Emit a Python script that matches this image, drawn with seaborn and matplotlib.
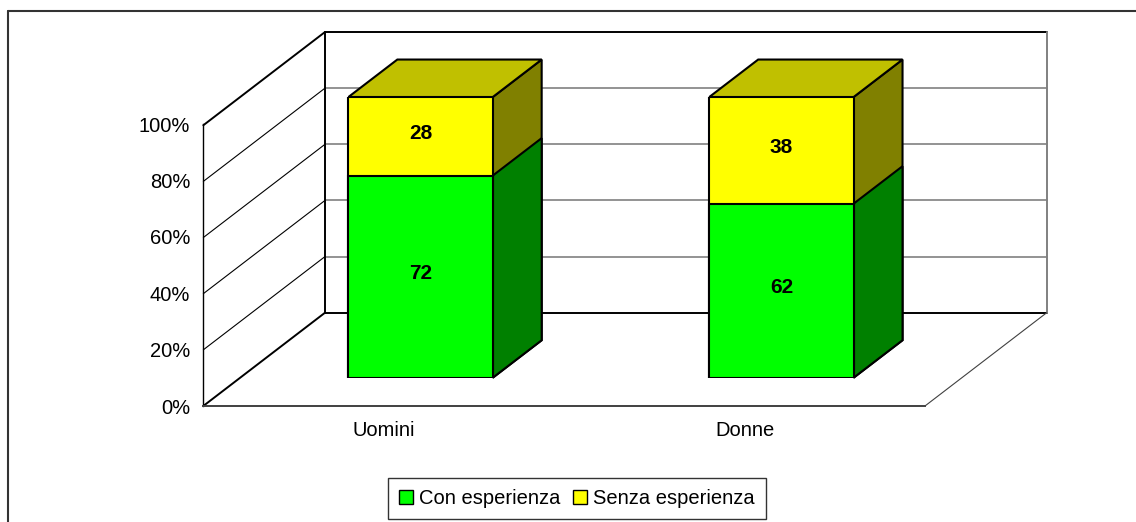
import matplotlib
matplotlib.use("Agg")
import matplotlib.pyplot as plt
import seaborn as sns
import pandas as pd
from matplotlib.lines import Line2D
from matplotlib.patches import Patch, Polygon

# dati
categories = ["Uomini", "Donne"]
con_esperienza = [72, 62]
senza_esperienza = [28, 38]
series_names = ["Con esperienza", "Senza esperienza"]
y_ticks = [0, 20, 40, 60, 80, 100]
y_tick_labels = ["0%", "20%", "40%", "60%", "80%", "100%"]

# colori stile Excel (fronte, lato, sopra)
GREEN = ("#00FF00", "#008000", "#00C000")
YELLOW = ("#FFFF00", "#808000", "#C0C000")

# prospettiva finta 3D, in unita' dati dell'asse delle barre
DEPTH_X, DEPTH_Y = 0.337, 33.2
FRONT_T, BACK_T, BAR_T = -0.303, 0.697, 0.402

W, H = 1136, 522

sns.set_style("white")
plt.rcParams["font.family"] = ["Liberation Sans", "DejaVu Sans"]
plt.rcParams["font.size"] = 14.5
plt.rcParams["text.color"] = "black"
plt.rcParams["xtick.labelcolor"] = "black"
plt.rcParams["ytick.labelcolor"] = "black"


def box(x0, y_top, x1, y_bottom):
    return [x0 / W, 1 - y_bottom / H, (x1 - x0) / W, (y_bottom - y_top) / H]


fig = plt.figure(figsize=(W / 100, H / 100), dpi=100)
ax = fig.add_axes(box(240.2, 97, 961.9, 377.7))
ax_front = fig.add_axes(box(203.3, 124, 925, 406))


def shift(x, y, t):
    return x + t * DEPTH_X, y + t * DEPTH_Y


# pareti e pavimento
lw = 0.8
xl, xr = -0.5, 1.5
for v in y_ticks:
    p0 = shift(xl, v, FRONT_T)
    p1 = shift(xl, v, BACK_T)
    p2 = shift(xr, v, BACK_T)
    ax.plot([p0[0], p1[0]], [p0[1], p1[1]], color="black",
            lw=1.4 if v in (0, 100) else lw, clip_on=False, zorder=0)
    if v not in (0, 100):
        ax.plot([p1[0], p2[0]], [p1[1], p2[1]], color="#808080", lw=1.2, clip_on=False, zorder=0)

bl0, bl1 = shift(xl, 0, BACK_T), shift(xl, 100, BACK_T)
br0, br1 = shift(xr, 0, BACK_T), shift(xr, 100, BACK_T)
ax.plot([bl0[0], bl1[0]], [bl0[1], bl1[1]], color="black", lw=1.4, clip_on=False, zorder=0)
ax.plot([bl1[0], br1[0]], [bl1[1], br1[1]], color="black", lw=1.4, clip_on=False, zorder=0)
ax.plot([bl0[0], br0[0]], [bl0[1], br0[1]], color="black", lw=1.4, clip_on=False, zorder=0)
ax.plot([br0[0], br1[0]], [br0[1], br1[1]], color="#808080", lw=1.4, clip_on=False, zorder=0)
fr0 = shift(xr, 0, FRONT_T)
ax.plot([fr0[0], br0[0]], [fr0[1], br0[1]], color="#404040", lw=lw, clip_on=False, zorder=0)

# barre impilate
df = pd.DataFrame({"categoria": categories,
                   series_names[0]: con_esperienza,
                   series_names[1]: senza_esperienza})
df["totale"] = df[series_names[0]] + df[series_names[1]]

sns.barplot(data=df, x="categoria", y="totale", color=YELLOW[0], saturation=1,
            width=0.4, edgecolor="black", linewidth=1.5, ax=ax, zorder=3)
sns.barplot(data=df, x="categoria", y=series_names[0], color=GREEN[0], saturation=1,
            width=0.4, edgecolor="black", linewidth=1.5, ax=ax, zorder=3)

bx, by = BAR_T * DEPTH_X, BAR_T * DEPTH_Y
n = len(categories)
bars_total = ax.patches[:n]
bars_con = ax.patches[n:2 * n]
for patches, colors, top in ((bars_total, YELLOW, True), (bars_con, GREEN, False)):
    for p in patches:
        x0, w = p.get_x(), p.get_width()
        y0, h = p.get_y(), p.get_height()
        x1, y1 = x0 + w, y0 + h
        side = Polygon([(x1, y0), (x1 + bx, y0 + by), (x1 + bx, y1 + by), (x1, y1)],
                       facecolor=colors[1], edgecolor="black", lw=1.5, zorder=2, clip_on=False)
        ax.add_patch(side)
        if top:
            cap = Polygon([(x0, y1), (x1, y1), (x1 + bx, y1 + by), (x0 + bx, y1 + by)],
                          facecolor=colors[2], edgecolor="black", lw=1.5, zorder=2, clip_on=False)
            ax.add_patch(cap)

# etichette dei valori
for i, (c, s) in enumerate(zip(con_esperienza, senza_esperienza)):
    ax.text(i, c / 2 + 1, str(c), ha="center", va="center", zorder=5,
            fontsize=15, fontweight="bold")
    ax.text(i, c + s / 2 + 1, str(s), ha="center", va="center", zorder=5,
            fontsize=15, fontweight="bold")

ax.set_xlim(-0.5, 1.5)
ax.set_ylim(0, 100)
ax.axis("off")

# assi frontali
ax_front.set_facecolor("none")
ax_front.set_xlim(-0.5, 1.5)
ax_front.set_ylim(0, 100)
ax_front.set_yticks(y_ticks)
ax_front.set_yticklabels(y_tick_labels)
ax_front.set_xticks(range(n))
ax_front.set_xticklabels(categories)
ax_front.set_xticks([-0.5, 0.5, 1.5], minor=True)
ax_front.tick_params(axis="x", which="major", length=0, pad=11, labelsize=14.5)
ax_front.tick_params(axis="x", which="minor", length=5, width=1, color="#606060", direction="out")
ax_front.tick_params(axis="y", length=4.5, width=1, color="#606060", direction="out", pad=5,
                     labelsize=14.5)
for side_name in ("top", "right"):
    ax_front.spines[side_name].set_visible(False)
ax_front.spines["left"].set_color("black")
ax_front.spines["left"].set_linewidth(1)
ax_front.spines["bottom"].set_color("#404040")
ax_front.spines["bottom"].set_linewidth(1.4)
ax_front.set_xlabel("")
ax_front.set_ylabel("")

# legenda
handles = [Patch(facecolor=GREEN[0], edgecolor="black", lw=1),
           Patch(facecolor=YELLOW[0], edgecolor="black", lw=1)]
leg = fig.legend(handles, series_names, loc="center", bbox_to_anchor=(577 / W, 1 - 498.5 / H),
                 ncol=2, frameon=True, fancybox=False, fontsize=14.5,
                 handlelength=0.7, handleheight=0.7, handletextpad=0.3, columnspacing=0.6,
                 borderpad=0.55, borderaxespad=0)
leg.get_frame().set_edgecolor("black")
leg.get_frame().set_linewidth(1)

# cornice esterna (solo sinistra e sopra)
fig.add_artist(Line2D([7.5 / W, 1], [1 - 10.5 / H, 1 - 10.5 / H], color="#333333", lw=1.5))
fig.add_artist(Line2D([7.5 / W, 7.5 / W], [0, 1 - 10.5 / H], color="#333333", lw=1.5))

fig.savefig("out.png", dpi=100)
